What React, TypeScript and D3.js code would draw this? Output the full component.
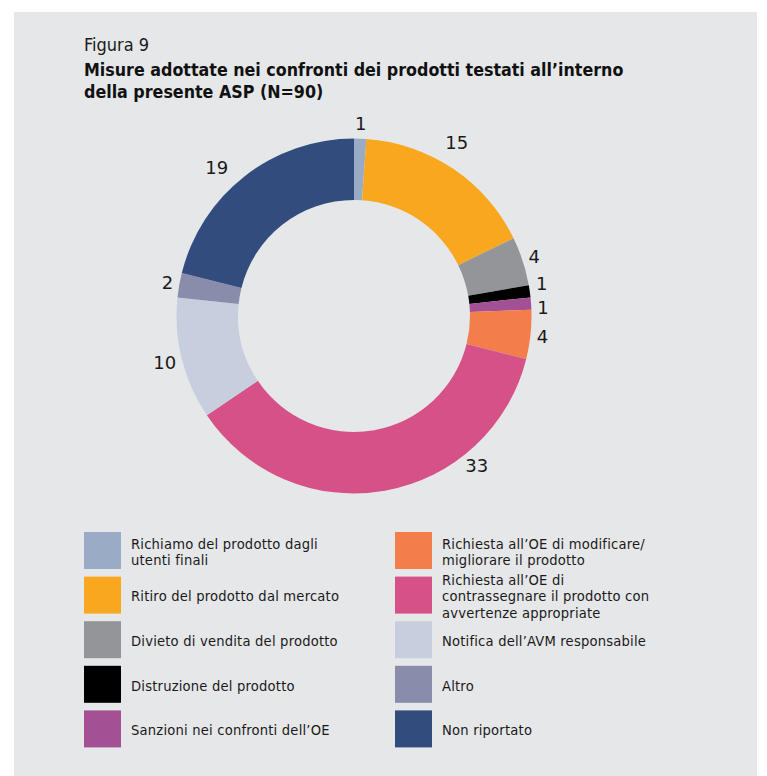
import React from "react";
import * as d3 from "d3";

const categories = [
  "Richiamo del prodotto dagli|utenti finali",
  "Ritiro del prodotto dal mercato",
  "Divieto di vendita del prodotto",
  "Distruzione del prodotto",
  "Sanzioni nei confronti dell’OE",
  "Richiesta all’OE di modificare/|migliorare il prodotto",
  "Richiesta all’OE di|contrassegnare il prodotto con|avvertenze appropriate",
  "Notifica dell’AVM responsabile",
  "Altro",
  "Non riportato",
];
const values = [1, 15, 4, 1, 1, 4, 33, 10, 2, 19];
const colors = [
  "#9AABC6",
  "#F8A71F",
  "#939598",
  "#000000",
  "#A35094",
  "#F37E4B",
  "#D65188",
  "#C7CEDE",
  "#8A8CAC",
  "#324D7D",
];
const figLabel = "Figura 9";
const titleLines = [
  "Misure adottate nei confronti dei prodotti testati all’interno",
  "della presente ASP (N=90)",
];

const W = 767;
const H = 776;
const cx = 354;
const cy = 316;
const rOuter = 177.5;
const rInner = 116;
const condensed = "'Liberation Sans Narrow', 'DejaVu Sans Condensed', 'Arial Narrow', sans-serif";

type Lab = { x: number; y: number; v: number; side: number };

export default function App() {
  const pie = d3.pie<number>().sort(null).value((d) => d)(values);
  const arc = d3.arc<d3.PieArcDatum<number>>().innerRadius(rInner).outerRadius(rOuter);
  const maxV = d3.max(values) as number;
  const labelFont = 18;
  const charW = 11;
  const labH = 18;

  // initial label positions: box touching a circle just outside the ring
  const labs: Lab[] = pie.map((d) => {
    const span = d.endAngle - d.startAngle;
    let a = (d.startAngle + d.endAngle) / 2;
    let R = rOuter + 6.5;
    if (d.value === maxV) a = d.startAngle + span * 0.28;
    else if (span > (50 * Math.PI) / 180) {
      a = d.startAngle + span * 0.44;
      R += 8;
    }
    const w = String(d.value).length * charW;
    const px = cx + R * Math.sin(a);
    const py = cy - R * Math.cos(a);
    return {
      x: px + (w / 2) * Math.sin(a),
      y: py - (labH / 2) * Math.cos(a),
      v: d.value,
      side: Math.sin(a) >= 0 ? 1 : -1,
    };
  });

  // simple vertical relaxation of colliding labels on the same side
  const minGap = 24;
  for (let iter = 0; iter < 30; iter++) {
    for (let i = 0; i < labs.length; i++) {
      for (let j = i + 1; j < labs.length; j++) {
        const A = labs[i];
        const B = labs[j];
        if (A.side !== B.side) continue;
        if (Math.abs(A.x - B.x) > 30) continue;
        const dy = B.y - A.y;
        if (Math.abs(dy) < minGap) {
          const push = (minGap - Math.abs(dy)) / 2;
          const s = dy >= 0 ? 1 : -1;
          A.y -= s * push;
          B.y += s * push;
        }
      }
    }
  }

  const rowTop = 532;
  const rowStep = 44.6;
  const sw = 37;
  const perCol = 5;
  const colX = [84, 395];
  const lineH = 16.4;

  return (
    <svg
      width={W}
      height={H}
      style={{ position: "absolute", left: 0, top: 0 }}
      xmlns="http://www.w3.org/2000/svg"
    >
      <rect x={0} y={0} width={W} height={H} fill="#ffffff" />
      <rect x={14} y={12} width={743} height={H - 12} fill="#E6E7E9" />
      <text x={84} y={51} fontFamily={condensed} fontSize={18} fill="#1a1a1a">
        {figLabel}
      </text>
      {titleLines.map((t, i) => (
        <text
          key={i}
          x={84}
          y={76 + i * 22}
          fontFamily={condensed}
          fontWeight="bold"
          fontSize={17.7}
          fill="#111"
        >
          {t}
        </text>
      ))}
      <g>
        {pie.map((d, i) => (
          <path key={i} d={arc(d) || ""} transform={`translate(${cx},${cy})`} fill={colors[i]} />
        ))}
      </g>
      <g>
        {labs.map((l, i) => (
          <text
            key={i}
            x={l.x}
            y={l.y}
            dy="0.36em"
            textAnchor="middle"
            fontFamily="'DejaVu Sans', sans-serif"
            fontSize={labelFont}
            fill="#1a1a1a"
          >
            {l.v}
          </text>
        ))}
      </g>
      <g>
        {categories.map((c, i) => {
          const col = Math.floor(i / perCol);
          const row = i % perCol;
          const x = colX[col];
          const y = rowTop + row * rowStep;
          const lines = c.split("|");
          const midY = y + sw / 2 + 1.2;
          const startY = midY - ((lines.length - 1) * lineH) / 2;
          return (
            <g key={i}>
              <rect x={x} y={y} width={sw} height={sw} fill={colors[i]} />
              {lines.map((l, j) => (
                <text
                  key={j}
                  x={x + sw + 10}
                  y={startY + j * lineH}
                  dy="0.35em"
                  fontFamily={condensed}
                  fontSize={14.6}
                  letterSpacing={0.2}
                  fill="#1a1a1a"
                >
                  {l}
                </text>
              ))}
            </g>
          );
        })}
      </g>
    </svg>
  );
}
